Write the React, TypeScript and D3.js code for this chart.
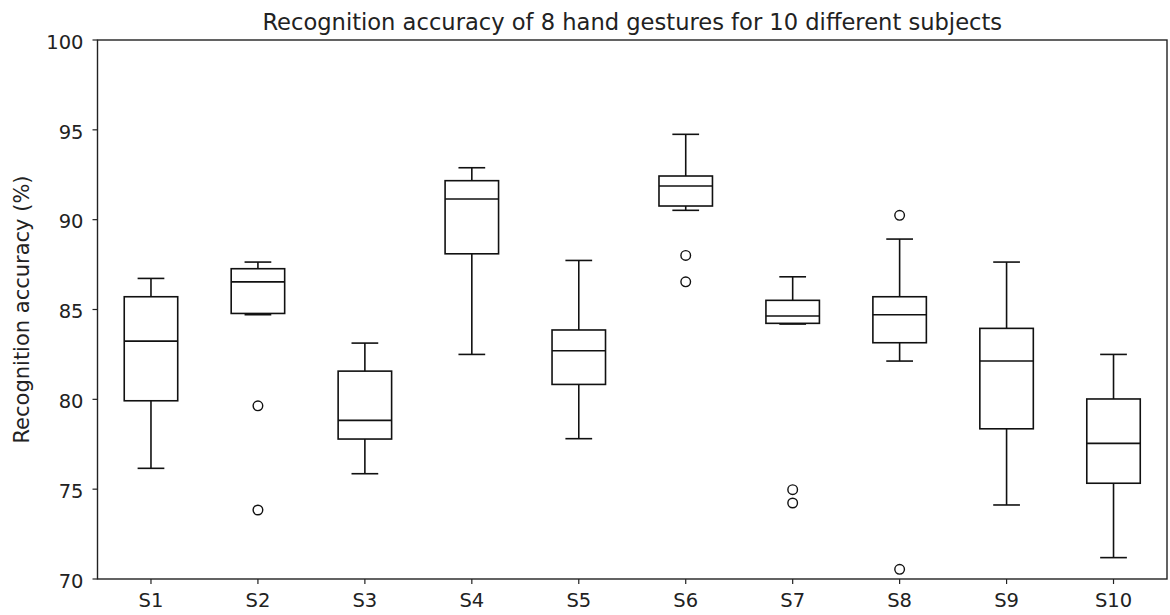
import React from 'react';
import * as d3 from 'd3';

// subjects and the box statistics
const subjects = ['S1', 'S2', 'S3', 'S4', 'S5', 'S6', 'S7', 'S8', 'S9', 'S10'];
const whiskerLow = [76.16, 84.71, 75.86, 82.5, 77.81, 90.52, 84.19, 82.13, 74.12, 71.19];
const q1 = [79.92, 84.78, 77.79, 88.1, 80.83, 90.76, 84.23, 83.15, 78.36, 75.33];
const median = [83.24, 86.54, 78.83, 91.15, 82.7, 91.87, 84.64, 84.71, 82.13, 77.55];
const q3 = [85.71, 87.27, 81.57, 92.17, 83.86, 92.43, 85.51, 85.71, 83.95, 80.02];
const whiskerHigh = [86.73, 87.64, 83.13, 92.89, 87.73, 94.75, 86.82, 88.92, 87.64, 82.5];
const outliers = [[], [79.64, 73.84], [], [], [], [88.01, 86.54], [74.97, 74.23], [90.24, 70.54], [], []];
const yTicks = [70, 75, 80, 85, 90, 95, 100];

const W = 1170;
const H = 615;
const margin = { left: 97.5, right: 1167, top: 40, bottom: 579 };
const font = 'DejaVu Sans, sans-serif';

export default function App() {
  const x = d3.scaleLinear().domain([0.5, 10.5]).range([margin.left, margin.right]);
  const y = d3.scaleLinear().domain([70, 100]).range([margin.bottom, margin.top]);
  const step = x(2) - x(1);
  const boxW = step * 0.5;
  const capW = boxW * 0.5;
  const stroke = '#111';

  return (
    <svg width={W} height={H} style={{ position: 'absolute', left: 0, top: 0, background: '#fff' }}>
      <rect x={0} y={0} width={W} height={H} fill="#fff" />
      <text x={(margin.left + margin.right) / 2} y={30} textAnchor="middle" fontFamily={font} fontSize={22.6} fill="#222">
        Recognition accuracy of 8 hand gestures for 10 different subjects
      </text>

      {/* boxes */}
      {subjects.map((s, i) => {
        const cx = x(i + 1);
        return (
          <g key={s} stroke={stroke} strokeWidth={1.6} fill="none">
            <line x1={cx} x2={cx} y1={y(whiskerLow[i])} y2={y(q1[i])} />
            <line x1={cx} x2={cx} y1={y(q3[i])} y2={y(whiskerHigh[i])} />
            <line x1={cx - capW / 2} x2={cx + capW / 2} y1={y(whiskerLow[i])} y2={y(whiskerLow[i])} />
            <line x1={cx - capW / 2} x2={cx + capW / 2} y1={y(whiskerHigh[i])} y2={y(whiskerHigh[i])} />
            <rect x={cx - boxW / 2} y={y(q3[i])} width={boxW} height={y(q1[i]) - y(q3[i])} />
            <line x1={cx - boxW / 2} x2={cx + boxW / 2} y1={y(median[i])} y2={y(median[i])} />
            {outliers[i].map((v, j) => (
              <circle key={j} cx={cx} cy={y(v)} r={4.8} strokeWidth={1.4} />
            ))}
          </g>
        );
      })}

      {/* axes frame */}
      <rect x={margin.left} y={margin.top} width={margin.right - margin.left} height={margin.bottom - margin.top}
        fill="none" stroke="#222" strokeWidth={1.4} />

      {yTicks.map((t) => (
        <g key={t}>
          <line x1={margin.left - 5} x2={margin.left} y1={y(t)} y2={y(t)} stroke="#222" strokeWidth={1.2} />
          <text x={margin.left - 14} y={y(t)} dy="0.45em" textAnchor="end" fontFamily={font} fontSize={19.5} fill="#222">
            {t}
          </text>
        </g>
      ))}

      {subjects.map((s, i) => (
        <g key={s}>
          <line x1={x(i + 1)} x2={x(i + 1)} y1={margin.bottom} y2={margin.bottom + 5} stroke="#222" strokeWidth={1.2} />
          <text x={x(i + 1)} y={margin.bottom + 28} textAnchor="middle" fontFamily={font} fontSize={19.5} fill="#222">
            {s}
          </text>
        </g>
      ))}

      <text transform={`translate(29,${(margin.top + margin.bottom) / 2}) rotate(-90)`} textAnchor="middle"
        fontFamily={font} fontSize={21} fill="#222">
        Recognition accuracy (%)
      </text>
    </svg>
  );
}
